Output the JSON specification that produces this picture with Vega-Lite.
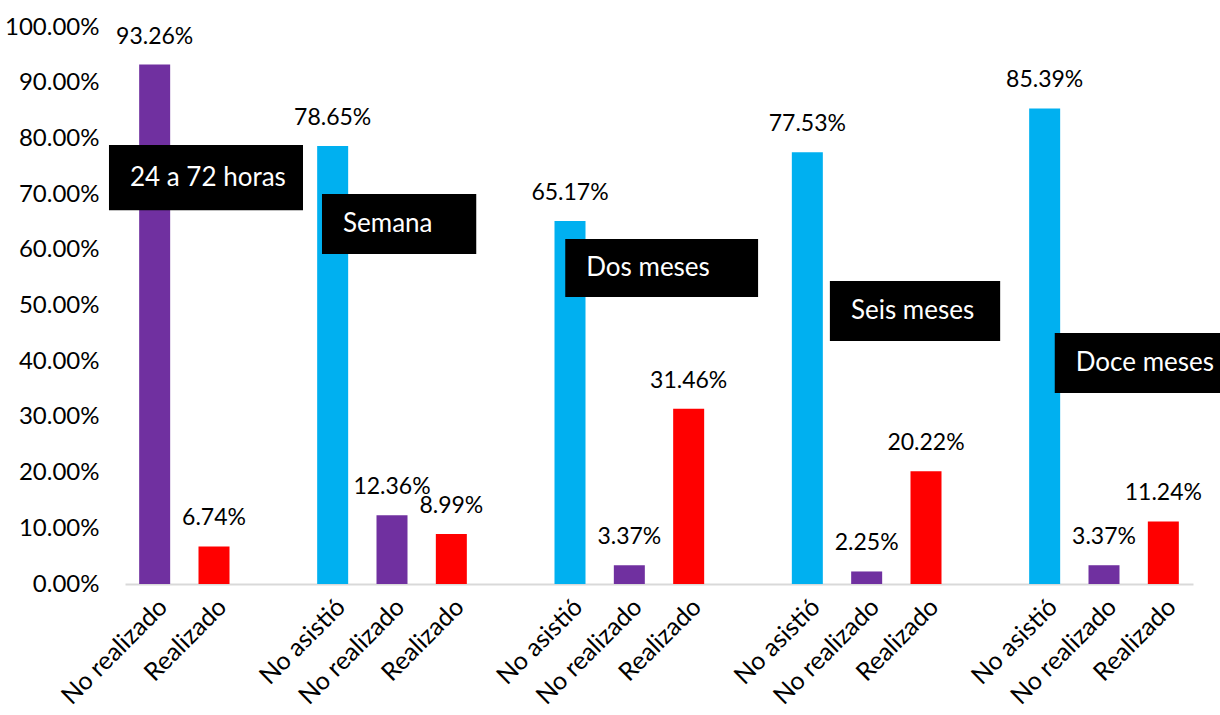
{
  "$schema": "https://vega.github.io/schema/vega-lite/v6.json",
  "autosize": "none",
  "width": 1068,
  "height": 557,
  "padding": {"left": 125, "top": 27, "right": 27, "bottom": 131},
  "background": "white",
  "config": {
    "view": {"stroke": null},
    "font": "Lato",
    "text": {"font": "Lato"}
  },
  "datasets": {
    "bars": [
      {"key": "1|No realizado", "cat": "No realizado", "value": 0.9326},
      {"key": "1|Realizado", "cat": "Realizado", "value": 0.0674},
      {"key": "2|No asistió", "cat": "No asistió", "value": 0.7865},
      {"key": "2|No realizado", "cat": "No realizado", "value": 0.1236},
      {"key": "2|Realizado", "cat": "Realizado", "value": 0.0899},
      {"key": "3|No asistió", "cat": "No asistió", "value": 0.6517},
      {"key": "3|No realizado", "cat": "No realizado", "value": 0.0337},
      {"key": "3|Realizado", "cat": "Realizado", "value": 0.3146},
      {"key": "4|No asistió", "cat": "No asistió", "value": 0.7753},
      {"key": "4|No realizado", "cat": "No realizado", "value": 0.0225},
      {"key": "4|Realizado", "cat": "Realizado", "value": 0.2022},
      {"key": "5|No asistió", "cat": "No asistió", "value": 0.8539},
      {"key": "5|No realizado", "cat": "No realizado", "value": 0.0337},
      {"key": "5|Realizado", "cat": "Realizado", "value": 0.1124}
    ],
    "boxes": [
      {"label": "24 a 72 horas", "x1": -0.77, "x2": 2.5, "y1": 0.788, "y2": 0.671, "ym": 0.7295},
      {"label": "Semana", "x1": 2.82, "x2": 5.42, "y1": 0.700, "y2": 0.5925, "ym": 0.646},
      {"label": "Dos meses", "x1": 6.92, "x2": 10.17, "y1": 0.6194, "y2": 0.5153, "ym": 0.567},
      {"label": "Seis meses", "x1": 11.38, "x2": 14.25, "y1": 0.544, "y2": 0.4363, "ym": 0.490},
      {"label": "Doce meses", "x1": 15.17, "x2": 18.1, "y1": 0.4506, "y2": 0.3429, "ym": 0.397}
    ]
  },
  "resolve": {"scale": {"x": "independent"}, "axis": {"x": "independent"}},
  "layer": [
    {
      "data": {"name": "bars"},
      "encoding": {
        "x": {
          "field": "key",
          "type": "ordinal",
          "scale": {
            "domain": ["1|No realizado", "1|Realizado", "g1|", "2|No asistió", "2|No realizado", "2|Realizado", "g2|", "3|No asistió", "3|No realizado", "3|Realizado", "g3|", "4|No asistió", "4|No realizado", "4|Realizado", "g4|", "5|No asistió", "5|No realizado", "5|Realizado"],
            "paddingInner": 0,
            "paddingOuter": 0
          },
          "axis": {
            "title": null,
            "labelExpr": "split(datum.label, '|')[1]",
            "labelAngle": -45,
            "labelFontSize": 25,
            "labelFont": "Lato",
            "labelColor": "#000000",
            "labelPadding": 10,
            "ticks": false,
            "domainColor": "#D9D9D9",
            "domainWidth": 2,
            "grid": false
          }
        },
        "y": {
          "field": "value",
          "type": "quantitative",
          "scale": {"domain": [0, 1], "nice": false},
          "axis": {
            "title": null,
            "values": [0, 0.1, 0.2, 0.3, 0.4, 0.5, 0.6, 0.7, 0.8, 0.9, 1],
            "format": ".2%",
            "labelFontSize": 24,
            "labelFont": "Lato",
            "labelColor": "#000000",
            "labelPadding": 26,
            "domain": false,
            "ticks": false,
            "grid": false
          }
        }
      },
      "layer": [
        {
          "mark": {"type": "bar", "width": 31},
          "encoding": {
            "color": {
              "field": "cat",
              "type": "nominal",
              "scale": {"domain": ["No asistió", "No realizado", "Realizado"], "range": ["#00B0F0", "#7030A0", "#FF0000"]},
              "legend": null
            }
          }
        },
        {
          "mark": {"type": "text", "baseline": "alphabetic", "dy": -21, "fontSize": 23, "font": "Lato", "color": "#000000"},
          "encoding": {
            "text": {"field": "value", "type": "quantitative", "format": ".2%"}
          }
        }
      ]
    },
    {
      "data": {"name": "boxes"},
      "layer": [
        {
          "mark": {"type": "rect", "color": "#000000", "clip": false},
          "encoding": {
            "x": {"field": "x1", "type": "quantitative", "scale": {"domain": [-0.5, 17.5], "nice": false, "zero": false}, "axis": null},
            "x2": {"field": "x2"},
            "y": {"field": "y1", "type": "quantitative"},
            "y2": {"field": "y2"}
          }
        },
        {
          "mark": {"type": "text", "align": "left", "baseline": "middle", "dx": 21, "fontSize": 26, "font": "Lato", "color": "#FFFFFF"},
          "encoding": {
            "x": {"field": "x1", "type": "quantitative", "scale": {"domain": [-0.5, 17.5], "nice": false, "zero": false}, "axis": null},
            "y": {"field": "ym", "type": "quantitative"},
            "text": {"field": "label"}
          }
        }
      ]
    }
  ]
}
